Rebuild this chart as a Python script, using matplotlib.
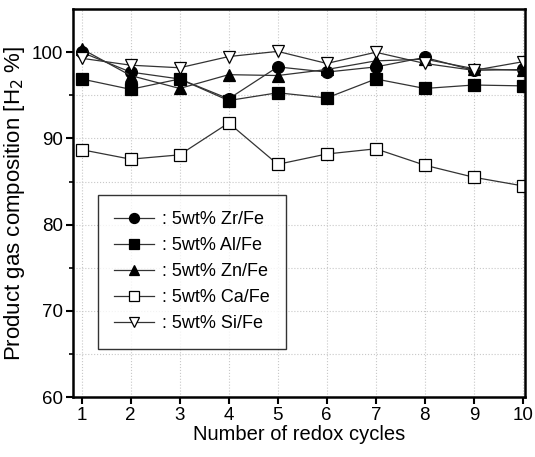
import matplotlib.pyplot as plt
import numpy as np

plt.rcParams['font.family'] = ['Liberation Sans', 'DejaVu Sans']

cycles = np.arange(1, 11)
zr_fe = [100.0, 97.7, 96.9, 94.6, 98.3, 97.7, 98.3, 99.4, 97.9, 98.0]
al_fe = [96.9, 95.7, 96.9, 94.4, 95.3, 94.7, 96.9, 95.8, 96.2, 96.1]
zn_fe = [100.4, 97.3, 95.8, 97.4, 97.3, 98.0, 99.0, 99.2, 98.1, 97.9]
ca_fe = [88.7, 87.6, 88.1, 91.8, 87.0, 88.2, 88.8, 86.9, 85.5, 84.5]
si_fe = [99.3, 98.5, 98.2, 99.5, 100.1, 98.7, 100.0, 98.7, 97.9, 98.9]

series = [
    (zr_fe, 'o', 'black', ': 5wt% Zr/Fe'),
    (al_fe, 's', 'black', ': 5wt% Al/Fe'),
    (zn_fe, '^', 'black', ': 5wt% Zn/Fe'),
    (ca_fe, 's', 'white', ': 5wt% Ca/Fe'),
    (si_fe, 'v', 'white', ': 5wt% Si/Fe'),
]

fig = plt.figure(figsize=(5.35, 4.57), dpi=100)
ax = fig.add_axes([0.136, 0.131, 0.845, 0.849])

for vals, mk, fc, lab in series:
    ax.plot(cycles, vals, color='#333333', linewidth=0.9, marker=mk,
            markersize=8.5, markerfacecolor=fc, markeredgecolor='black',
            markeredgewidth=0.9, label=lab)

ax.set_xlim(0.82, 10.04)
ax.set_ylim(60, 105)
ax.set_xticks(cycles)
ax.set_yticks([60, 70, 80, 90, 100])
ax.set_yticks([65, 75, 85, 95], minor=True)
ax.grid(True, which='both', color='#c8c8c8', linestyle=':', linewidth=0.8)
ax.tick_params(direction='out', labelsize=13.5, width=1.5, length=5, pad=2)
ax.tick_params(which='minor', direction='out', width=1.2, length=3)
for s in ax.spines.values():
    s.set_linewidth(1.8)

ax.set_xlabel('Number of redox cycles', fontsize=14.5, labelpad=1)
ax.set_ylabel('Product gas composition [H$_2$ %]', fontsize=16, labelpad=3)

leg = ax.legend(loc='lower left', bbox_to_anchor=(0.055, 0.125), fontsize=13,
                frameon=True, fancybox=False, edgecolor='black',
                handlelength=2.2, borderpad=0.9, labelspacing=0.5,
                handletextpad=0.45, markerscale=0.85, borderaxespad=0)
leg.get_frame().set_linewidth(1.0)

fig.savefig('out.png', dpi=100)
